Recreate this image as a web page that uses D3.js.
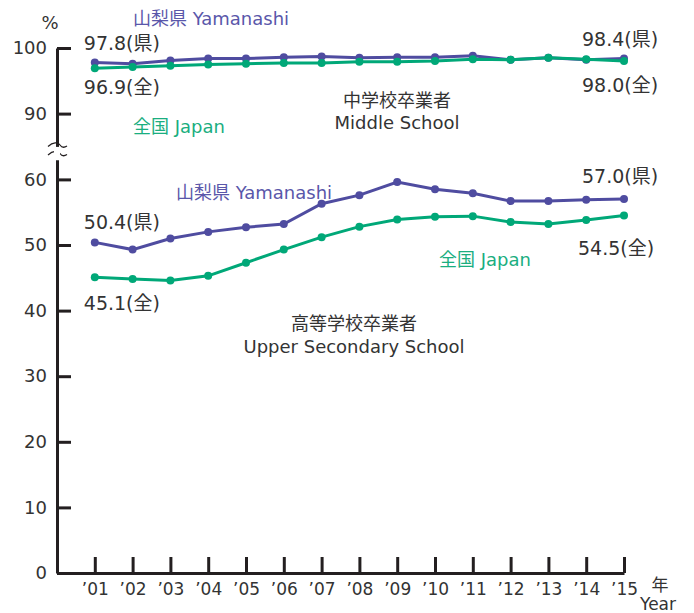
<!DOCTYPE html>
<html>
<head>
<meta charset="utf-8">
<script src="https://cdn.jsdelivr.net/npm/d3@7"></script>
<style>
  body { margin: 0; background: #fff; }
  svg text { font-family: "DejaVu Sans", "Noto Sans CJK JP", sans-serif; fill: #333; }
</style>
</head>
<body>
<svg width="694" height="613"></svg>
<script>
// years on the x axis
var years = [2001, 2002, 2003, 2004, 2005, 2006, 2007, 2008, 2009, 2010, 2011, 2012, 2013, 2014, 2015];

// middle school graduates going on to higher school (%)
var midYamanashi = [97.8, 97.6, 98.1, 98.4, 98.4, 98.6, 98.7, 98.5, 98.6, 98.6, 98.8, 98.2, 98.5, 98.2, 98.4];
var midJapan     = [96.9, 97.1, 97.3, 97.5, 97.6, 97.7, 97.7, 97.9, 97.9, 98.0, 98.3, 98.2, 98.5, 98.3, 98.0];

// upper secondary school graduates going on to university (%)
var highYamanashi = [50.4, 49.3, 51.0, 52.0, 52.7, 53.2, 56.3, 57.6, 59.6, 58.5, 57.9, 56.7, 56.7, 56.9, 57.0];
var highJapan     = [45.1, 44.8, 44.6, 45.3, 47.3, 49.3, 51.2, 52.8, 53.9, 54.3, 54.4, 53.5, 53.2, 53.8, 54.5];

var lowTicks = [0, 10, 20, 30, 40, 50, 60];
var highTicks = [90, 100];

var purple = "#4f4ca0";
var green = "#00a878";

var svg = d3.select("svg");
var k = 6.56; // px per percent, same on both parts of the broken axis

var x = d3.scaleLinear().domain([2000, 2015]).range([57, 624]);
var yLow = d3.scaleLinear().domain([0, 63]).range([573, 573 - 63 * k]);
var yHigh = d3.scaleLinear().domain([85, 100]).range([48 + 15 * k, 48]);

//axes
var axisLow = d3.axisLeft(yLow).tickValues(lowTicks).tickSizeInner(-14).tickSizeOuter(0).tickPadding(10);
var axisHigh = d3.axisLeft(yHigh).tickValues(highTicks).tickSizeInner(-14).tickSizeOuter(0).tickPadding(10);
var axisX = d3.axisBottom(x).tickValues(years).tickSizeInner(-16).tickSizeOuter(0).tickPadding(6)
  .tickFormat(function(d) { return "\u2019" + String(d).slice(2); });

function styleAxis(g) {
  g.selectAll("path, line").attr("stroke", "#231f20").attr("stroke-width", 3);
  g.selectAll("text").style("font-size", "18px").attr("fill", "#333");
}

svg.append("g").attr("transform", "translate(57,0)").call(axisLow).call(styleAxis);
svg.append("g").attr("transform", "translate(57,0)").call(axisHigh).call(styleAxis);
svg.append("g").attr("transform", "translate(0,573)").call(axisX).call(styleAxis)
  .selectAll("text").attr("dy", "0.95em").style("font-size", "17px");

//break marks on the y axis
var brk = svg.append("g").attr("fill", "none").attr("stroke", "#231f20").attr("stroke-width", 1.2);
[145, 153.5].forEach(function(yy) {
  brk.append("path").attr("d", "M48," + (yy + 1.5) + " C53," + (yy - 3) + " 58," + (yy - 3) + " 60," + yy + " S64," + (yy + 3) + " 67," + (yy + 1));
});
svg.append("rect").attr("x", 54).attr("y", yHigh(85) + 1).attr("width", 6).attr("height", 7).attr("fill", "#fff");

//lines and points
function drawSeries(vals, y, color) {
  var line = d3.line().x(function(d, i) { return x(years[i]); }).y(function(d) { return y(d); });
  svg.append("path").datum(vals).attr("d", line)
    .attr("fill", "none").attr("stroke", color).attr("stroke-width", 3);
  svg.append("g").selectAll("circle").data(vals).enter().append("circle")
    .attr("cx", function(d, i) { return x(years[i]); })
    .attr("cy", function(d) { return y(d); })
    .attr("r", 4).attr("fill", color);
}
drawSeries(midYamanashi, yHigh, purple);
drawSeries(midJapan, yHigh, green);
drawSeries(highYamanashi, yLow, purple);
drawSeries(highJapan, yLow, green);

//text labels
function label(txt, px, py, opts) {
  opts = opts || {};
  svg.append("text").attr("x", px).attr("y", py)
    .attr("text-anchor", opts.anchor || "start")
    .style("font-size", (opts.size || 18) + "px")
    .style("fill", opts.color || "#333")
    .text(txt);
}

var last = years.length - 1;
label(midYamanashi[0].toFixed(1) + "(県)", x(years[0]) - 11, yHigh(midYamanashi[0]) - 12, {size: 19});
label(midJapan[0].toFixed(1) + "(全)", x(years[0]) - 11, yHigh(midJapan[0]) + 26, {size: 19});
label(midYamanashi[last].toFixed(1) + "(県)", x(years[last]) - 42, yHigh(midYamanashi[last]) - 12, {size: 19});
label(midJapan[last].toFixed(1) + "(全)", x(years[last]) - 42, yHigh(midJapan[last]) + 31, {size: 19});
label(highYamanashi[0].toFixed(1) + "(県)", x(years[0]) - 11, yLow(highYamanashi[0]) - 13, {size: 19});
label(highJapan[0].toFixed(1) + "(全)", x(years[0]) - 11, yLow(highJapan[0]) + 33, {size: 19});
label(highYamanashi[last].toFixed(1) + "(県)", x(years[last]) - 42, yLow(highYamanashi[last]) - 16, {size: 19});
label(highJapan[last].toFixed(1) + "(全)", x(years[last]) - 46, yLow(highJapan[last]) + 40, {size: 19});

label("山梨県 Yamanashi", 133, 25, {color: "#5a57aa"});
label("全国 Japan", 133, 133, {color: "#1aae80"});
label("山梨県 Yamanashi", 176, 199, {color: "#5a57aa"});
label("全国 Japan", 439, 266, {color: "#1aae80"});

label("中学校卒業者", 397, 107, {anchor: "middle"});
label("Middle School", 397, 129, {anchor: "middle"});
label("高等学校卒業者", 354, 330, {anchor: "middle"});
label("Upper Secondary School", 354, 353, {anchor: "middle"});

label("%", 50, 29, {anchor: "middle"});
label("年", 660, 591, {anchor: "middle", size: 17});
label("Year", 658, 610, {anchor: "middle", size: 17});
</script>
</body>
</html>
